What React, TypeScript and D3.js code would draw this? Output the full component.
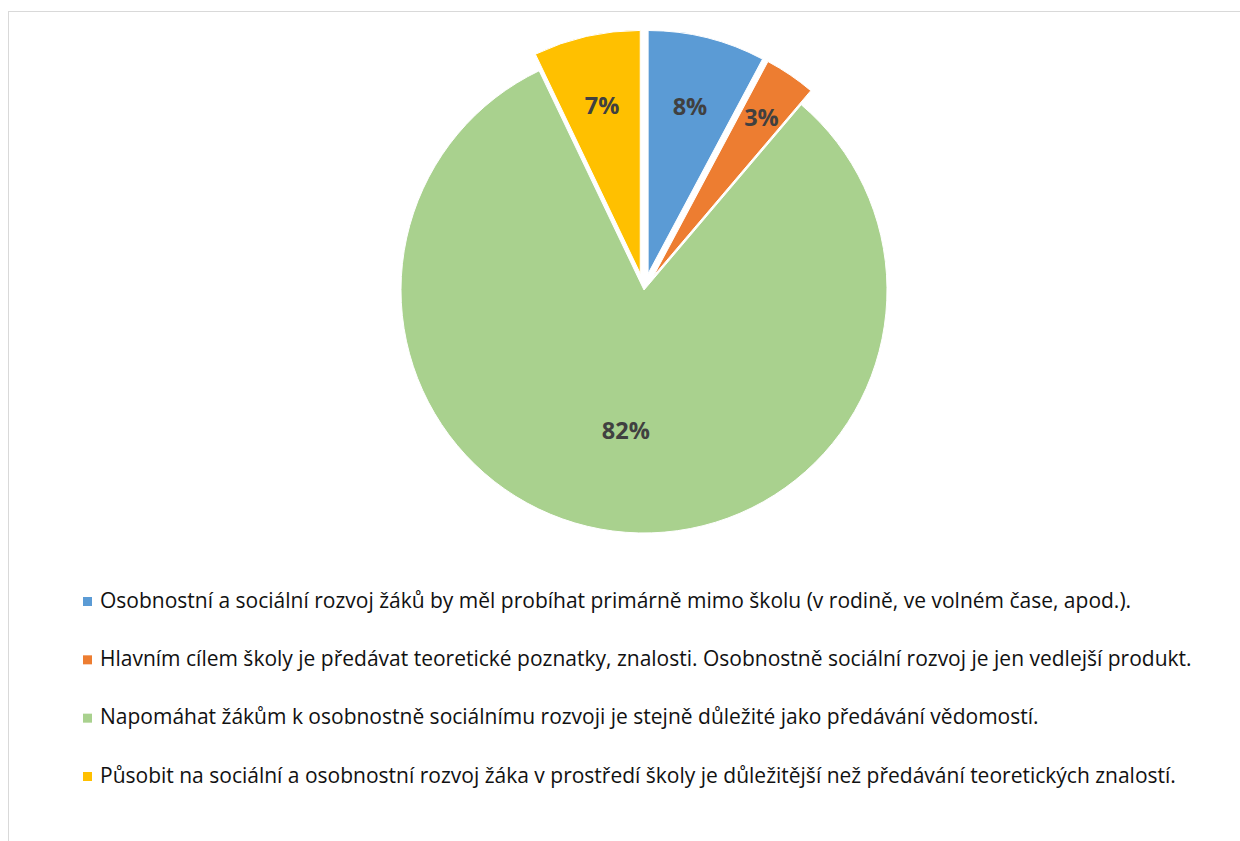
import React, { useLayoutEffect, useRef, useState } from "react";
import * as d3 from "d3";

const categories: string[] = [
  "Osobnostní a sociální rozvoj žáků by měl probíhat primárně mimo školu (v rodině, ve volném čase, apod.).",
  "Hlavním cílem školy je předávat teoretické poznatky, znalosti. Osobnostně sociální rozvoj je jen vedlejší produkt.",
  "Napomáhat žákům k osobnostně sociálnímu rozvoji je stejně důležité jako předávání vědomostí.",
  "Působit na sociální a osobnostní rozvoj žáka v prostředí školy je důležitější než předávání teoretických znalostí.",
];
const values: number[] = [7.8, 3.4, 81.7, 7.1];
const colors: string[] = ["#5B9BD5", "#ED7D31", "#A9D18E", "#FFC000"];
const exploded: boolean[] = [true, true, false, true];

const W = 1240;
const H = 841;
const CX = 644;
const CY = 290;
const R = 243;
const EXPLODE = 17;
const FONT = "'Open Sans', 'Noto Sans', sans-serif";

export default function App() {
  const refLine = useRef<SVGTextElement | null>(null);
  const [fs, setFs] = useState(18.5);

  useLayoutEffect(() => {
    if (refLine.current) {
      const w = refLine.current.getComputedTextLength();
      const target = 1092;
      if (w > 0 && Math.abs(w - target) > 1) {
        setFs((f) => (f * target) / w);
      }
    }
  }, [fs]);

  const pie = d3.pie<number>().sort(null).value((d) => d).startAngle(0).endAngle(2 * Math.PI);
  const arcs = pie(values);
  const arcGen = d3.arc<d3.PieArcDatum<number>>().innerRadius(0).outerRadius(R);

  const legendY = d3.scalePoint<number>().domain(d3.range(categories.length)).range([601.5, 776.5]);

  return (
    <svg width={W} height={H} style={{ position: "absolute", left: 0, top: 0 }}>
      <rect x={8.5} y={11.5} width={1400} height={1000} fill="white" stroke="#d9d9d9" strokeWidth={1} />
      {arcs.map((a, i) => {
        const mid = (a.startAngle + a.endAngle) / 2;
        const off = exploded[i] ? EXPLODE : 0;
        const ox = CX + Math.sin(mid) * off;
        const oy = CY - Math.cos(mid) * off;
        return (
          <g key={i} transform={`translate(${ox},${oy})`}>
            <path d={arcGen(a) || ""} fill={colors[i]} stroke="white" strokeWidth={1} />
          </g>
        );
      })}
      {arcs.map((a, i) => {
        const mid = (a.startAngle + a.endAngle) / 2;
        const off = exploded[i] ? EXPLODE : 0;
        const frac = a.value > 50 ? 0.58 : a.value < 5 ? 0.79 : 0.71;
        const rr = off + R * frac;
        const x = CX + Math.sin(mid) * rr;
        const y = CY - Math.cos(mid) * rr;
        return (
          <text
            key={"l" + i}
            x={x}
            y={y}
            textAnchor="middle"
            dominantBaseline="central"
            fontFamily={FONT}
            fontWeight="bold"
            fontSize={23.5}
            fill="#404040"
          >
            {Math.round(a.value) + "%"}
          </text>
        );
      })}
      {categories.map((c, i) => {
        const y = legendY(i) as number;
        return (
          <g key={"lg" + i}>
            <rect x={83} y={y - 4.5} width={9} height={9} fill={colors[i]} />
            <text
              ref={i === 1 ? refLine : undefined}
              x={100}
              y={y + 6}
              fontFamily={FONT}
              fontSize={fs}
              fill="#111"
            >
              {c}
            </text>
          </g>
        );
      })}
    </svg>
  );
}
